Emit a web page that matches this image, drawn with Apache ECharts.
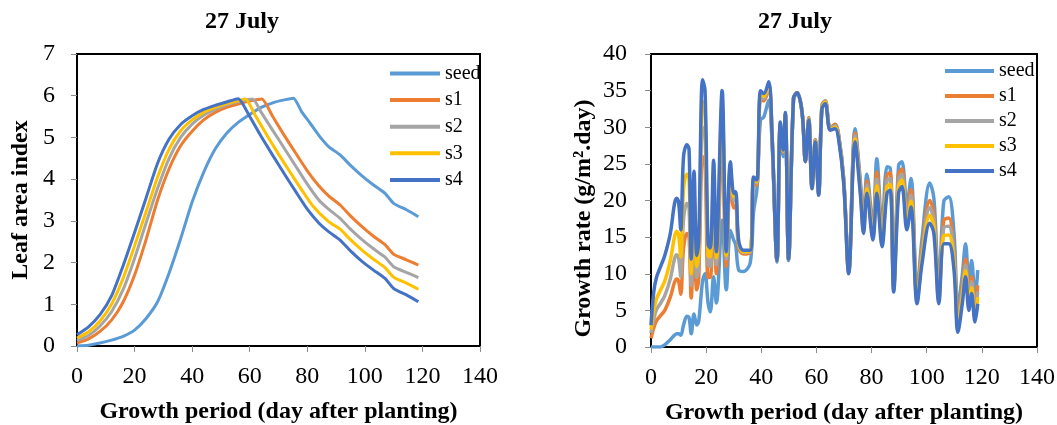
<!DOCTYPE html>
<html>
<head>
<meta charset="utf-8">
<script src="https://cdn.jsdelivr.net/npm/echarts@6/dist/echarts.min.js"></script>
<style>
html,body{margin:0;padding:0;background:#fff;}
#chart{width:1057px;height:425px;}
</style>
</head>
<body>
<div id="chart"></div>
<script>
// ---------- Data ----------
const seriesNames = ['seed', 's1', 's2', 's3', 's4'];
const seriesColors = ['#5B9BD5', '#ED7D31', '#A5A5A5', '#FFC000', '#4472C4'];
const xTicks = [0, 20, 40, 60, 80, 100, 120, 140];

// Left chart: Leaf area index (day after planting, value)
const laiSeedDays = [0,4,8,12,16,20,24,28,32,36,40,44,48,52,56,60,64,68,72,75.2,78,81,84,87.4,91.4,95,99,103,107,110,114.6,118.6];
const laiSeed     = [0,0.02,0.07,0.14,0.23,0.38,0.66,1.06,1.75,2.57,3.45,4.16,4.72,5.1,5.36,5.55,5.72,5.83,5.9,5.94,5.62,5.34,5.05,4.78,4.58,4.33,4.08,3.86,3.66,3.42,3.26,3.10];
const laiS1Days   = [0,4,8,12,16,20,24,28,32,36,40,44,48,52,56,60,64.2,68,72,76,80,84,87.4,91.4,95,99,103,107,110,114.6,118.6];
const laiS1       = [0.07,0.17,0.35,0.62,1.05,1.7,2.55,3.5,4.25,4.8,5.15,5.42,5.6,5.72,5.8,5.87,5.92,5.5,5.05,4.62,4.2,3.84,3.6,3.38,3.12,2.86,2.63,2.43,2.2,2.06,1.94];
const laiS2Days   = [0,4,8,12,16,20,24,28,32,36,40,44,48,52,56,61,64,68,72,76,80,84,87.4,91.4,95,99,103,107,110,114.6,118.6];
const laiS2       = [0.13,0.25,0.48,0.82,1.35,2.1,2.95,3.78,4.5,5.0,5.32,5.53,5.67,5.78,5.86,5.92,5.6,5.17,4.74,4.31,3.88,3.5,3.28,3.06,2.8,2.55,2.33,2.13,1.9,1.76,1.64];
const laiS3Days   = [0,4,8,12,16,20,24,28,32,36,40,44,48,52,56,58.5,62,66,70,74,78,82,87.4,91.4,95,99,103,107,110,114.6,118.6];
const laiS3       = [0.19,0.34,0.6,1.0,1.62,2.4,3.22,4.05,4.72,5.16,5.42,5.6,5.72,5.81,5.88,5.92,5.52,5.05,4.6,4.17,3.75,3.35,2.98,2.8,2.55,2.3,2.08,1.88,1.65,1.5,1.36];
const laiS4Days   = [0,4,8,12,16,20,24,28,32,36,40,44,48,52,56,60,64,68,72,76,80,84,87.4,91.4,95,99,103,107,110,114.6,118.6];
const laiS4       = [0.27,0.46,0.75,1.2,1.92,2.72,3.55,4.38,4.96,5.31,5.52,5.67,5.77,5.85,5.93,5.5,5.02,4.57,4.13,3.7,3.28,2.95,2.74,2.54,2.28,2.03,1.82,1.62,1.38,1.22,1.06];

// Right chart: Growth rate (g/m2.day)
const grDays = [0,1,2,3.5,5,7,8.5,9.3,10,10.8,11.8,13,13.8,14.6,15.6,16.6,17.3,18.7,19.6,20.7,21.5,22.7,23.7,25.8,27.3,28.8,30,30.7,31.8,33.5,36,37.2,38.4,39.7,40.9,42.7,43.9,45.7,46.9,47.9,48.7,49.9,51.7,53,54.8,56,57.2,58.4,59.6,60.8,62,63.2,65,66.8,68,69.9,71.7,74,75.9,77.1,78.3,80.5,81.9,83.8,85.6,86.8,88,89.8,91,92.8,94.3,96.5,98.3,101.1,102.6,104.4,106.2,108,109.9,111.3,112.9,114.1,115.3,116.3,117.5,118.5];
const grS4 = [3.0,7.5,9.5,11.0,12.5,15.5,19.5,20.3,19.8,16.0,26.0,27.6,27.0,12.0,24.0,12.5,14.3,36.5,35.0,14.0,13.5,25.5,13.0,35.0,13.0,25.3,21.0,21.2,14.5,13.2,13.2,23.2,22.8,35.0,34.6,36.2,29.0,11.8,30.7,26.9,32.0,12.0,34.0,34.7,32.0,25.3,31.0,21.6,28.0,20.7,32.5,33.2,29.6,29.8,28.5,22.3,10.0,28.0,21.0,15.5,21.0,14.6,21.0,13.7,21.0,21.4,7.5,21.0,21.9,16.0,19.1,5.9,11.4,16.9,15.5,5.9,14.1,14.1,10.5,2.0,5.9,9.6,5.0,7.3,3.4,5.9];
const grS3 = [2.4,5.0,6.6,7.8,9.0,11.8,15.0,15.8,15.3,12.3,21.5,23.6,23.0,10.0,21.0,11.0,12.8,33.5,32.0,12.5,12.3,23.5,12.2,33.0,12.5,24.5,20.5,20.7,14.2,13.0,13.1,22.9,22.6,34.5,34.2,35.8,28.9,11.8,30.5,26.8,31.9,12.0,34.0,34.7,32.0,25.3,31.1,21.7,28.1,20.8,32.7,33.4,29.7,30.0,28.7,22.5,10.1,28.4,21.4,15.8,21.6,15.0,22.0,14.2,21.9,22.2,7.8,22.0,22.8,16.8,19.9,6.3,12.1,18.0,16.5,6.4,15.2,15.3,11.5,3.0,6.8,10.4,5.7,8.1,4.0,6.8];
const grS2 = [1.9,3.8,5.1,6.0,7.0,9.3,12.0,12.6,12.2,9.6,17.5,19.6,19.0,8.4,17.5,9.5,11.2,30.0,29.0,11.2,11.0,21.5,11.2,31.0,12.0,24.0,20.0,20.2,14.0,12.9,13.0,22.6,22.4,34.2,33.9,35.5,28.8,11.8,30.3,26.7,31.8,12.0,34.0,34.7,32.1,25.4,31.2,21.8,28.2,20.9,32.9,33.5,29.8,30.2,28.9,22.7,10.2,28.8,21.8,16.1,22.1,15.4,22.9,14.7,22.7,23.0,8.1,22.8,23.6,17.5,20.7,6.7,12.8,19.0,17.4,6.9,16.3,16.5,12.3,3.7,7.6,11.2,6.4,8.9,4.6,7.6];
const grS1 = [1.2,2.6,3.6,4.3,5.0,6.8,8.8,9.3,9.0,7.2,13.5,15.5,15.0,6.7,14.0,7.8,9.3,26.0,25.0,9.5,9.5,19.0,10.0,28.0,11.0,23.0,19.0,19.3,13.5,12.7,12.9,22.3,22.1,33.8,33.6,35.2,28.7,11.8,30.2,26.6,31.7,12.0,34.0,34.7,32.1,25.4,31.3,21.9,28.3,21.0,33.0,33.6,29.9,30.4,29.0,22.8,10.3,29.2,22.2,16.5,22.7,15.8,23.9,15.3,23.5,23.8,8.4,23.6,24.3,18.3,21.5,7.1,13.5,20.0,18.3,7.4,17.3,17.6,13.0,4.4,8.4,12.0,7.1,9.6,5.2,8.4];
const grSeed = [0,0,0,0,0.3,1.0,1.6,1.8,1.8,1.6,3.0,4.2,4.0,1.8,4.5,3.0,3.5,9.0,10.0,6.0,4.8,9.6,6.0,17.3,7.8,15.9,14.6,14.0,10.5,10.3,11.5,18.5,21.5,31.0,31.4,33.7,28.0,11.6,29.5,26.0,31.0,11.8,33.8,34.6,32.0,25.4,31.3,22.0,28.3,21.1,33.0,33.6,29.9,30.4,29.1,23.0,10.5,29.8,22.8,17.0,23.6,16.6,25.7,16.3,24.6,24.4,9.0,24.8,25.3,19.5,23.0,7.8,14.8,22.4,20.3,8.5,19.9,20.5,15.5,5.5,9.8,14.1,8.8,11.8,6.5,10.5];

// ---------- Build ----------
const FONT = '"Liberation Serif", "Times New Roman", serif';
const pairs = (xs, ys) => xs.map((x, i) => [x, ys[i]]);
const laiSets = [[laiSeedDays, laiSeed], [laiS1Days, laiS1], [laiS2Days, laiS2], [laiS3Days, laiS3], [laiS4Days, laiS4]];
const grSets = [grSeed, grS1, grS2, grS3, grS4];

function xAxisCfg(gridIndex, nameText) {
  return {
    type: 'value', gridIndex, min: 0, max: 140, interval: 20,
    name: nameText, nameLocation: 'middle', nameGap: 54,
    nameTextStyle: { fontFamily: FONT, fontSize: 24, fontWeight: 'bold', color: '#000' },
    axisLine: { show: true, lineStyle: { color: '#000', width: 2 } },
    axisTick: { show: true, inside: false, length: 6, lineStyle: { color: '#8c8c8c', width: 1 } },
    axisLabel: { fontFamily: FONT, fontSize: 24, color: '#000', margin: 19 },
    splitLine: { show: false }
  };
}
function yAxisCfg(gridIndex, max, interval, nameText, gap, pad, lblMargin) {
  return {
    type: 'value', gridIndex, min: 0, max, interval,
    name: nameText, nameLocation: 'middle', nameGap: gap,
    nameTextStyle: { fontFamily: FONT, fontSize: 24, fontWeight: 'bold', color: '#000', padding: pad },
    axisLine: { show: true, lineStyle: { color: '#000', width: 2 } },
    axisTick: { show: true, inside: false, length: 6, lineStyle: { color: '#8c8c8c', width: 1 } },
    axisLabel: { fontFamily: FONT, fontSize: 24, color: '#000', margin: lblMargin },
    splitLine: { show: false }
  };
}

const series = [];
laiSets.forEach((s, i) => {
  series.push({
    name: seriesNames[i], type: 'line', xAxisIndex: 0, yAxisIndex: 0,
    data: pairs(s[0], s[1]), showSymbol: false, symbol: 'none', smooth: 0.2,
    lineStyle: { width: 3, color: seriesColors[i] }, itemStyle: { color: seriesColors[i] },
    z: 2 + i
  });
});
grSets.forEach((vals, i) => {
  series.push({
    name: seriesNames[i], type: 'line', xAxisIndex: 1, yAxisIndex: 1,
    data: pairs(grDays, vals), showSymbol: false, symbol: 'none', smooth: 0.35,
    lineStyle: { width: 3.5, color: seriesColors[i] }, itemStyle: { color: seriesColors[i] },
    z: 2 + i
  });
});

const legendBase = {
  orient: 'vertical', icon: 'rect', itemWidth: 50, itemHeight: 4,
  textStyle: { fontFamily: FONT, fontSize: 20, color: '#000' },
  data: seriesNames, selectedMode: false
};

const option = {
  backgroundColor: '#fff',
  animation: false,
  title: [
    { text: '27 July', left: 242, top: 10, textAlign: 'center', padding: 0,
      textStyle: { fontFamily: FONT, fontSize: 24, fontWeight: 'bold', color: '#000' } },
    { text: '27 July', left: 795, top: 10, textAlign: 'center', padding: 0,
      textStyle: { fontFamily: FONT, fontSize: 24, fontWeight: 'bold', color: '#000' } }
  ],
  grid: [
    { left: 77, top: 54, width: 403, height: 292, outerBoundsMode: 'none', containLabel: false,
      show: true, borderColor: '#000', borderWidth: 2, backgroundColor: 'transparent' },
    { left: 651, top: 54, width: 386, height: 293, outerBoundsMode: 'none', containLabel: false,
      show: true, borderColor: '#000', borderWidth: 2, backgroundColor: 'transparent' }
  ],
  xAxis: [
    xAxisCfg(0, 'Growth period (day after planting)'),
    xAxisCfg(1, 'Growth period (day after planting)')
  ],
  yAxis: [
    yAxisCfg(0, 7, 1, 'Leaf area index', 44, [0, 0, 0, 0], 22),
    yAxisCfg(1, 40, 5, 'Growth rate (g/m\u00B2.day)', 55, [0, 36, 0, 0], 24)
  ],
  legend: [
    Object.assign({}, legendBase, { left: 385, top: 58.5, itemGap: 6.6 }),
    Object.assign({}, legendBase, { left: 940, top: 56, itemGap: 5, itemWidth: 49 })
  ],
  series
};

const chart = echarts.init(document.getElementById('chart'), null, { renderer: 'canvas' });
chart.setOption(option);
</script>
</body>
</html>
